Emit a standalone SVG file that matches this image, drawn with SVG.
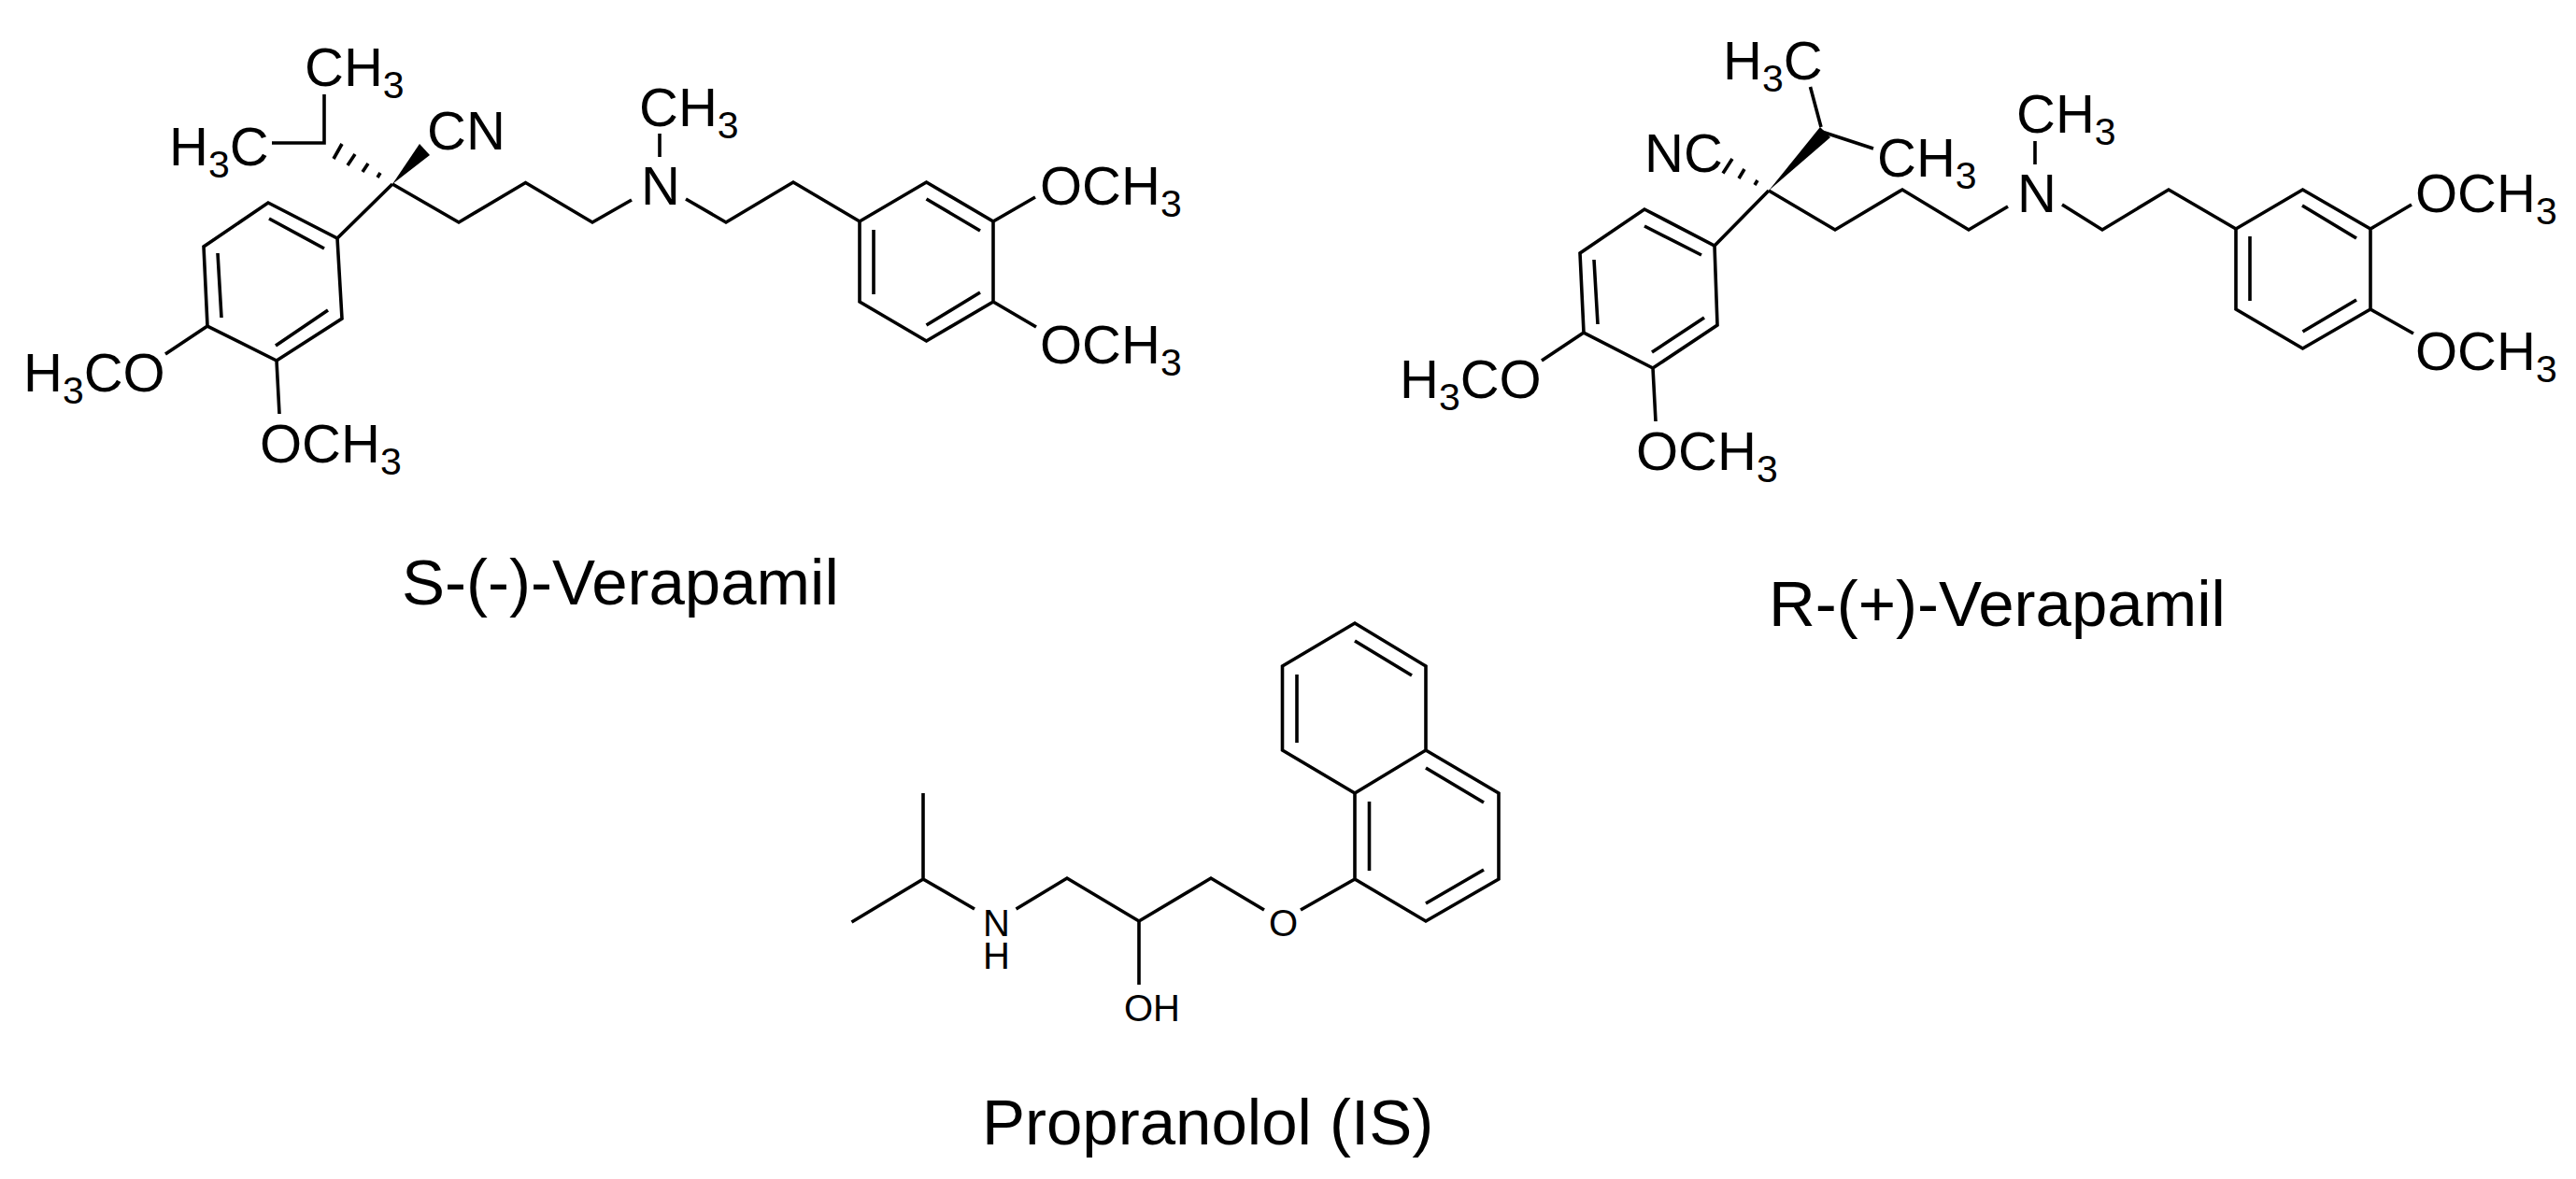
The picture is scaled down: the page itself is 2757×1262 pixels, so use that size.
<svg xmlns="http://www.w3.org/2000/svg" width="2757" height="1262" viewBox="0 0 2757 1262">
<style>
.b{fill:none;stroke:#000;stroke-width:3.6;stroke-linejoin:miter;stroke-linecap:butt}
.t,.s,.c{font-family:"Liberation Sans",Arial,sans-serif;fill:#000}
.t{font-size:58px}
.s{font-size:40px}
.c{font-size:69px}
.u{font-size:41px}
</style>
<rect width="2757" height="1262" fill="#fff"/>
<g id="s-verapamil">
<path class="b" d="M347 101V153H291M420 197L361 255L287 217L218 264L222 349L296 386L366 341L361 255M288 234L347 266M233 271L237 340M295 370L351 332M222 349L177 379M296 386L299 443M420 197L491 238L562.5 195.5L634 238L676 214M706 143V168M734 213L777 238L849 195L920 237L991.5 195L1063 237V323L991.5 365L920 323V237M991.5 213L1049 247M935 246V315M991.5 348L1049 313M1063 237L1108 211M1063 323L1109 350"/>
<path class="b" d="M366 154L357 170M380 165L372 177M394 175L388 184M407 185L404 190"/>
<path d="M420 197L449 154L460 166Z"/>
<text class="t" x="326" y="92">CH<tspan class="u" dy="13">3</tspan></text>
<text class="t" x="181" y="177">H<tspan class="u" dy="13">3</tspan><tspan dy="-13">C</tspan></text>
<text class="t" x="457" y="160">CN</text>
<text class="t" x="25" y="419">H<tspan class="u" dy="13">3</tspan><tspan dy="-13">CO</tspan></text>
<text class="t" x="278" y="495">OCH<tspan class="u" dy="13">3</tspan></text>
<text class="t" x="684" y="135">CH<tspan class="u" dy="13">3</tspan></text>
<text class="t" x="686" y="219">N</text>
<text class="t" x="1113" y="219">OCH<tspan class="u" dy="13">3</tspan></text>
<text class="t" x="1113" y="389">OCH<tspan class="u" dy="13">3</tspan></text>
<text class="c" x="430" y="647">S-(-)-Verapamil</text>
</g>
<g id="r-verapamil">
<path class="b" d="M1893 204L1835 263L1760 224L1691 271L1695 356L1769 394L1838 348L1835 263M1760 242L1821 273M1706 278L1710 347M1768 377L1824 340M1695 356L1650 386M1769 394L1772 451M1893 204L1964 246L2036 203L2107 246L2149 221M1949 136L1937.5 93M1950 141L2005 159M2178 151V176M2207 219L2250 246L2321 203L2393 245L2464.5 203L2537 245V331L2464.5 373L2393 331V245M2464 220L2522 255M2408 253V322M2464.5 355L2522 321M2537 245L2581 219M2537 331L2583 357"/>
<path class="b" d="M1854 170L1844 185.5M1867 181L1861 191M1881 193L1878 198"/>
<path d="M1893 204L1948 136L1959 147Z"/>
<text class="t" x="1844" y="85">H<tspan class="u" dy="13">3</tspan><tspan dy="-13">C</tspan></text>
<text class="t" x="2009" y="189">CH<tspan class="u" dy="13">3</tspan></text>
<text class="t" x="1760" y="184">NC</text>
<text class="t" x="1498" y="426">H<tspan class="u" dy="13">3</tspan><tspan dy="-13">CO</tspan></text>
<text class="t" x="1751" y="503">OCH<tspan class="u" dy="13">3</tspan></text>
<text class="t" x="2158" y="142">CH<tspan class="u" dy="13">3</tspan></text>
<text class="t" x="2159" y="227">N</text>
<text class="t" x="2585" y="227">OCH<tspan class="u" dy="13">3</tspan></text>
<text class="t" x="2585" y="396">OCH<tspan class="u" dy="13">3</tspan></text>
<text class="c" x="1893" y="670">R-(+)-Verapamil</text>
</g>
<g id="propranolol">
<path class="b" d="M911.5 987L988 941V849M988 941L1043 973M1087.5 973L1142 940L1219 986L1296 940L1353 974M1392 974L1450 941V849L1526 803L1604 849V941L1526 986L1450 941M1450 849L1372.5 803V713L1450 667L1526 713V803M1450 686L1511 723M1388 722V795M1526 822L1588 859M1465.5 858V932M1526 967L1588 931M1219 986V1054"/>
<text class="s"><tspan x="1052" y="1002">N</tspan><tspan x="1052" y="1037">H</tspan></text>
<text class="s" x="1358" y="1002">O</text>
<text class="s" x="1203" y="1093">OH</text>
<text class="c" x="1051" y="1225">Propranolol (IS)</text>
</g>
</svg>
